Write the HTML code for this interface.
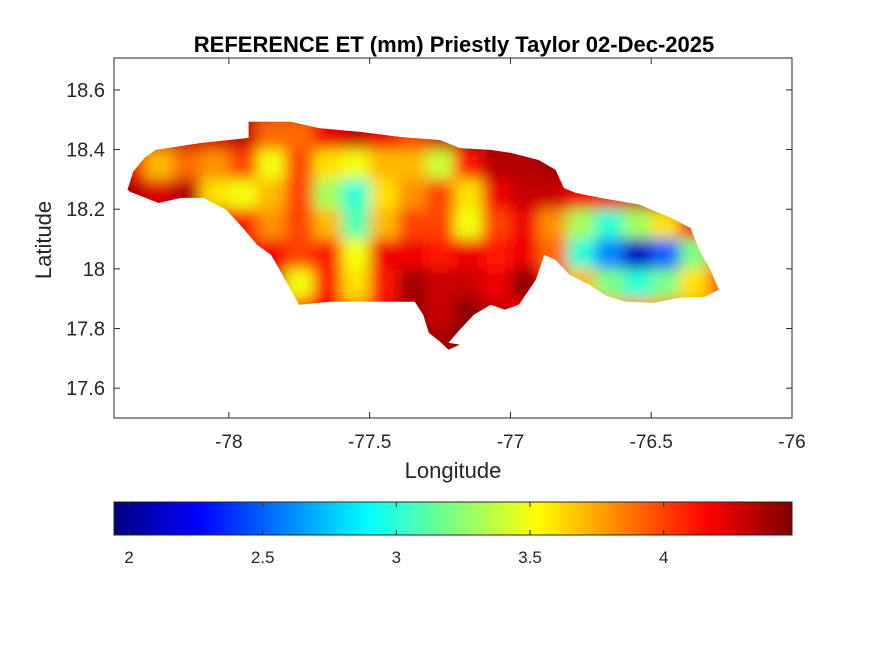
<!DOCTYPE html>
<html><head><meta charset="utf-8">
<style>
html,body{margin:0;padding:0;background:#fff;}
svg{display:block;font-family:"Liberation Sans",Arial,sans-serif;}
</style></head>
<body>
<svg id="fig" width="875" height="656" viewBox="0 0 875 656">
<defs>
<filter id="blur" filterUnits="userSpaceOnUse" x="80" y="80" width="740" height="320"><feGaussianBlur stdDeviation="7"/></filter>
<linearGradient id="jet" x1="0" x2="1" y1="0" y2="0">
<stop offset="0" stop-color="#000080"/><stop offset="0.125" stop-color="#0000ff"/>
<stop offset="0.375" stop-color="#00ffff"/><stop offset="0.625" stop-color="#ffff00"/>
<stop offset="0.875" stop-color="#ff0000"/><stop offset="1" stop-color="#800000"/>
</linearGradient>
<clipPath id="island"><polygon id="clipPoly"/></clipPath>
</defs>
<rect x="114" y="58" width="678" height="360" fill="#fff" stroke="#262626" stroke-width="1"/>
<g id="map" clip-path="url(#island)"></g>
<g id="axes"></g>
<text x="454" y="52" text-anchor="middle" font-size="22" font-weight="bold" fill="#000">REFERENCE ET (mm) Priestly Taylor 02-Dec-2025</text>
<text x="453" y="478" text-anchor="middle" font-size="22" fill="#262626">Longitude</text>
<text transform="translate(51,240) rotate(-90)" text-anchor="middle" font-size="22" fill="#262626">Latitude</text>
<rect x="114" y="502" width="678" height="33" fill="url(#jet)" stroke="#262626" stroke-width="1"/>
<g id="cbar"></g>
</svg>
<script>
// data
const lonCenters = [-78.35,-78.25,-78.15,-78.05,-77.95,-77.85,-77.75,-77.65,-77.55,-77.45,-77.35,-77.25,-77.15,-77.05,-76.95,-76.85,-76.75,-76.65,-76.55,-76.45,-76.35,-76.25];
const latCenters = [18.45,18.35,18.25,18.15,18.05,17.95,17.85,17.75];
const etRow1 = [4.3,4.3,4.3,4.3,4.3,3.9,3.9,4.2,4.3,4.2,4.0,4.3,4.4,4.4,4.4,4.4,4.4,4.4,4.4,4.4,4.4,4.4];
const etRow2 = [4.2,3.7,3.9,3.8,4.0,3.5,4.0,3.6,3.5,3.7,3.7,3.4,4.1,4.35,4.35,4.4,4.4,4.4,4.4,4.4,4.4,4.4];
const etRow3 = [4.35,4.25,4.35,3.6,3.5,3.7,4.0,3.3,3.0,3.6,3.8,4.0,3.6,4.2,4.3,4.3,4.2,4.2,4.3,4.35,4.35,4.35];
const etRow4 = [4.3,4.3,4.3,4.3,4.1,3.8,4.0,3.7,3.1,3.7,4.0,4.0,3.5,4.0,4.2,3.8,3.3,3.0,3.3,3.6,4.2,4.3];
const etRow5 = [4.3,4.3,4.3,4.3,4.2,4.2,4.0,4.1,3.5,4.2,4.2,4.1,4.2,4.1,4.2,3.9,3.0,2.6,2.1,2.5,3.2,3.9];
const etRow6 = [4.3,4.3,4.3,4.3,4.3,4.3,3.5,4.1,3.6,4.1,4.4,4.3,4.3,4.2,4.45,4.1,3.7,3.2,3.0,3.2,3.6,3.9];
const etRow7 = [4.3,4.3,4.3,4.3,4.3,4.3,4.1,4.2,3.8,4.2,4.4,4.3,4.45,4.3,4.2,4.2,3.8,3.8,3.8,3.8,3.8,3.8];
const etRow8 = [4.4,4.4,4.4,4.4,4.4,4.4,4.4,4.4,4.4,4.4,4.4,4.4,4.45,4.45,4.4,4.4,4.4,4.4,4.4,4.4,4.4,4.4];
const etRows = [etRow1,etRow2,etRow3,etRow4,etRow5,etRow6,etRow7,etRow8];
const outlineLon = [-78.36,-78.34,-78.30,-78.26,-78.19,-78.10,-78.00,-77.93,-77.93,-77.78,-77.68,-77.53,-77.39,-77.25,-77.18,-77.07,-77.00,-76.90,-76.84,-76.81,-76.77,-76.68,-76.54,-76.43,-76.36,-76.33,-76.29,-76.26,-76.31,-76.40,-76.49,-76.59,-76.66,-76.72,-76.79,-76.84,-76.88,-76.91,-76.97,-77.02,-77.07,-77.13,-77.18,-77.22,-77.18,-77.22,-77.25,-77.29,-77.31,-77.34,-77.50,-77.64,-77.75,-77.78,-77.81,-77.85,-77.90,-77.96,-78.01,-78.09,-78.17,-78.25,-78.35];
const outlineLat = [18.265,18.325,18.372,18.399,18.409,18.422,18.432,18.439,18.493,18.493,18.472,18.459,18.442,18.432,18.405,18.399,18.389,18.365,18.332,18.271,18.255,18.238,18.215,18.171,18.137,18.064,17.997,17.930,17.906,17.903,17.886,17.890,17.910,17.947,17.980,18.030,18.047,17.963,17.880,17.863,17.880,17.846,17.796,17.752,17.746,17.729,17.756,17.786,17.846,17.890,17.890,17.890,17.880,17.930,17.980,18.047,18.081,18.148,18.198,18.238,18.238,18.221,18.258];
const xTicks = [-78,-77.5,-77,-76.5,-76];
const xTickLabels = ["-78","-77.5","-77","-76.5","-76"];
const yTicks = [17.6,17.8,18,18.2,18.4,18.6];
const yTickLabels = ["17.6","17.8","18","18.2","18.4","18.6"];
const cTicks = [2,2.5,3,3.5,4];
const cTickLabels = ["2","2.5","3","3.5","4"];
const cMin = 1.944, cMax = 4.48;

const NS="http://www.w3.org/2000/svg";
const X0=114,X1=792,Y0=58,Y1=418, lonMin=-78.408, lonMax=-76, latMin=17.5, latMax=18.707;
function xs(lon){return X0+(lon-lonMin)/(lonMax-lonMin)*(X1-X0);}
function ys(lat){return Y1-(lat-latMin)/(latMax-latMin)*(Y1-Y0);}
function cs(v){return 114+(v-cMin)/(cMax-cMin)*678;}
function jet(t){
  t=Math.max(0,Math.min(1,t));
  const f=(a)=>Math.max(0,Math.min(1,a));
  const r=f(Math.min(4*t-1.5,-4*t+4.5)),g=f(Math.min(4*t-0.5,-4*t+3.5)),b=f(Math.min(4*t+0.5,-4*t+2.5));
  return `rgb(${Math.round(r*255)},${Math.round(g*255)},${Math.round(b*255)})`;
}
function mk(tag,attrs,parent){const e=document.createElementNS(NS,tag);for(const k in attrs)e.setAttribute(k,attrs[k]);parent.appendChild(e);return e;}

document.getElementById('clipPoly').setAttribute('points',outlineLon.map((l,i)=>xs(l).toFixed(1)+','+ys(outlineLat[i]).toFixed(1)).join(' '));
const map=document.getElementById('map');
const inner=mk('g',{filter:'url(#blur)'},map);
const bg=mk('rect',{x:90,y:90,width:720,height:300,fill:jet((4.3-cMin)/(cMax-cMin))},inner);


const dLon=0.1,dLat=0.1;
etRows.forEach((row,ri)=>{
  row.forEach((v,ci)=>{
    const lon=lonCenters[ci],lat=latCenters[ri];
    const x=xs(lon-dLon/2),y=ys(lat+dLat/2);
    const r=mk('rect',{x:x.toFixed(1),y:y.toFixed(1),width:(xs(lon+dLon/2)-x+0.5).toFixed(1),height:(ys(lat-dLat/2)-y+0.5).toFixed(1),fill:jet((v-cMin)/(cMax-cMin))},inner);
    
    
  });
});

const axes=document.getElementById('axes');
xTicks.forEach((t,i)=>{
  const x=xs(t);
  mk('line',{x1:x,x2:x,y1:Y1,y2:Y1-6,stroke:'#262626'},axes);
  mk('line',{x1:x,x2:x,y1:Y0,y2:Y0+6,stroke:'#262626'},axes);
  const tx=mk('text',{x:x,y:Y1+30,'text-anchor':'middle','font-size':19,fill:'#262626'},axes);
  tx.textContent=xTickLabels[i];
  
  
});
yTicks.forEach((t,i)=>{
  const y=ys(t);
  mk('line',{x1:X0,x2:X0+6,y1:y,y2:y,stroke:'#262626'},axes);
  mk('line',{x1:X1,x2:X1-6,y1:y,y2:y,stroke:'#262626'},axes);
  const tx=mk('text',{x:X0-9,y:y+7,'text-anchor':'end','font-size':20,fill:'#262626'},axes);
  tx.textContent=yTickLabels[i];
  
  
});
const cb=document.getElementById('cbar');
cTicks.forEach((t,i)=>{
  const x=cs(t);
  mk('line',{x1:x,x2:x,y1:535,y2:530,stroke:'#262626'},cb);
  mk('line',{x1:x,x2:x,y1:502,y2:507,stroke:'#262626'},cb);
  const tx=mk('text',{x:x,y:563,'text-anchor':'middle','font-size':17,fill:'#262626'},cb);
  tx.textContent=cTickLabels[i];
  
  
});
</script>
</body></html>
